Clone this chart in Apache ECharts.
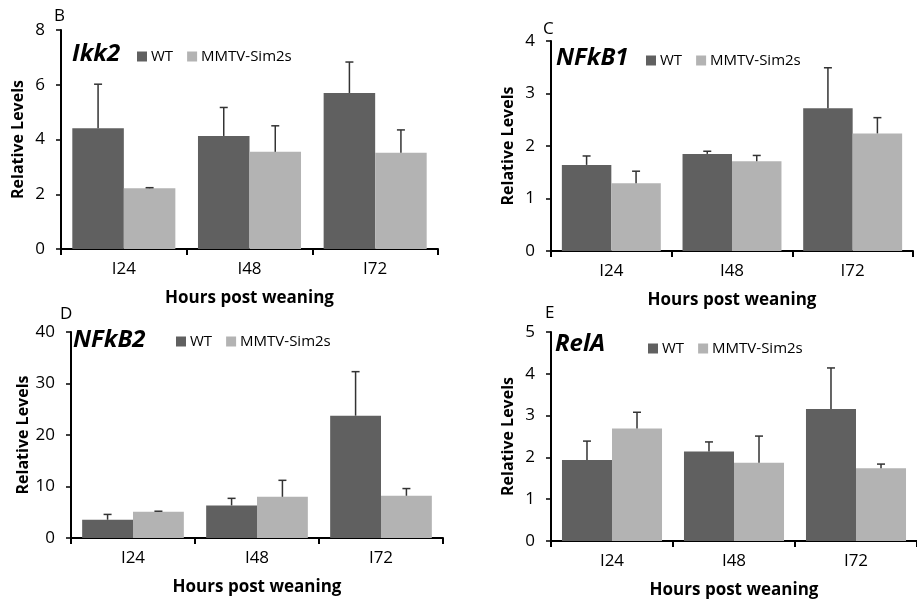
<!DOCTYPE html>
<html>
<head>
<meta charset="utf-8">
<script src="https://cdn.jsdelivr.net/npm/echarts@6/dist/echarts.min.js"></script>
<style>
  html, body { margin: 0; padding: 0; background: #fff; }
  #chart { width: 917px; height: 603px; }
</style>
</head>
<body>
<div id="chart"></div>
<script>
const categories = ["I24", "I48", "I72"];
const seriesNames = ["WT", "MMTV-Sim2s"];

// Ikk2
const ikk2WT = [4.41, 4.13, 5.7];
const ikk2WTErr = [1.61, 1.04, 1.13];
const ikk2Sim = [2.22, 3.55, 3.52];
const ikk2SimErr = [0.02, 0.95, 0.83];

// NFkB1
const nfkb1WT = [1.64, 1.85, 2.72];
const nfkb1WTErr = [0.17, 0.05, 0.77];
const nfkb1Sim = [1.29, 1.71, 2.24];
const nfkb1SimErr = [0.23, 0.11, 0.3];

// NFkB2
const nfkb2WT = [3.55, 6.33, 23.75];
const nfkb2WTErr = [1.03, 1.37, 8.55];
const nfkb2Sim = [5.1, 8.0, 8.2];
const nfkb2SimErr = [0.1, 3.2, 1.4];

// RelA
const relaWT = [1.94, 2.14, 3.16];
const relaWTErr = [0.45, 0.23, 0.98];
const relaSim = [2.69, 1.87, 1.74];
const relaSimErr = [0.39, 0.64, 0.1];

const FONT = "Open Sans";
const WT_COLOR = "#606060";
const SIM_COLOR = "#b3b3b3";
const GAP = 0.18;

const panels = [
  { letter: "B", gene: "Ikk2", max: 8, interval: 2,
    grid: { left: 61, top: 30, right: 479, bottom: 354 },
    wt: ikk2WT, wtErr: ikk2WTErr, sim: ikk2Sim, simErr: ikk2SimErr,
    letterPos: [54, 8], genePos: [72, 42], legendPos: [137, 49] },
  { letter: "C", gene: "NFkB1", max: 4, interval: 1,
    grid: { left: 551, top: 41, right: 4, bottom: 352 },
    wt: nfkb1WT, wtErr: nfkb1WTErr, sim: nfkb1Sim, simErr: nfkb1SimErr,
    letterPos: [543, 21], genePos: [556, 46], legendPos: [646, 53] },
  { letter: "D", gene: "NFkB2", max: 40, interval: 10,
    grid: { left: 71, top: 332, right: 474, bottom: 65 },
    wt: nfkb2WT, wtErr: nfkb2WTErr, sim: nfkb2Sim, simErr: nfkb2SimErr,
    letterPos: [60, 306], genePos: [73, 328], legendPos: [176, 334] },
  { letter: "E", gene: "RelA", max: 5, interval: 1,
    grid: { left: 551, top: 332, right: -9, bottom: 62 },
    wt: relaWT, wtErr: relaWTErr, sim: relaSim, simErr: relaSimErr,
    letterPos: [545, 305], genePos: [555, 332], legendPos: [648, 341] }
];

const chart = echarts.init(document.getElementById("chart"));

function errorItems(values, errs, sign) {
  return values.map((v, i) => [i, v, errs[i], sign]);
}

function renderError(params, api) {
  const idx = api.value(0);
  const v = api.value(1);
  const e = api.value(2);
  const sign = api.value(3);
  const base = api.coord([idx, v]);
  const top = api.coord([idx, v + e]);
  const band = api.size([1, 0])[0];
  const barW = band * (1 - GAP) / 2;
  const x = base[0] + sign * barW / 2;
  const style = { stroke: "#333", lineWidth: 1.5 };
  return {
    type: "group",
    children: [
      { type: "line", shape: { x1: x, y1: base[1], x2: x, y2: top[1] }, style: style },
      { type: "line", shape: { x1: x - 4, y1: top[1], x2: x + 4, y2: top[1] }, style: style }
    ]
  };
}

const option = {
  animation: false,
  backgroundColor: "#fff",
  textStyle: { fontFamily: FONT },
  title: [],
  legend: [],
  grid: [],
  xAxis: [],
  yAxis: [],
  series: []
};

panels.forEach((p, k) => {
  option.grid.push(Object.assign({ containLabel: false }, p.grid));
  option.title.push({
    text: p.letter, left: p.letterPos[0], top: p.letterPos[1], padding: 0,
    textStyle: { fontFamily: FONT, fontSize: 17, fontWeight: "normal", color: "#000" }
  });
  option.title.push({
    text: p.gene, left: p.genePos[0], top: p.genePos[1], padding: 0,
    textStyle: { fontFamily: FONT, fontSize: 24, fontWeight: "bold", fontStyle: "italic", color: "#000" }
  });
  option.legend.push({
    data: seriesNames, left: p.legendPos[0], top: p.legendPos[1], padding: 0,
    icon: "rect", itemWidth: 10, itemHeight: 10, itemGap: 14,
    selectedMode: false,
    textStyle: { fontFamily: FONT, fontSize: 15, color: "#000", padding: [0, 0, 0, -1] }
  });
  option.xAxis.push({
    type: "category", gridIndex: k, data: categories,
    name: "Hours post weaning", nameLocation: "middle", nameGap: 41,
    nameTextStyle: { fontFamily: FONT, fontSize: 17, fontWeight: "bold", color: "#000" },
    axisLine: { lineStyle: { color: "#000", width: 2 } },
    axisTick: { show: true, length: 6, lineStyle: { color: "#000", width: 2 } },
    axisLabel: { fontFamily: FONT, fontSize: 17, color: "#000", margin: 12 },
    splitLine: { show: false }
  });
  option.yAxis.push({
    type: "value", gridIndex: k, min: 0, max: p.max, interval: p.interval,
    name: "Relative Levels", nameLocation: "middle", nameGap: 35,
    nameTextStyle: { fontFamily: FONT, fontSize: 16, fontWeight: "bold", color: "#000" },
    axisLine: { show: true, lineStyle: { color: "#000", width: 2 } },
    axisTick: { show: true, length: 5, lineStyle: { color: "#000", width: 1.5 } },
    axisLabel: { fontFamily: FONT, fontSize: 17, color: "#000", margin: 16 },
    splitLine: { show: false }
  });
  option.series.push({
    name: seriesNames[0], type: "bar", xAxisIndex: k, yAxisIndex: k,
    data: p.wt, barGap: 0, barCategoryGap: (GAP * 100) + "%",
    itemStyle: { color: WT_COLOR }
  });
  option.series.push({
    name: seriesNames[1], type: "bar", xAxisIndex: k, yAxisIndex: k,
    data: p.sim, barGap: 0, barCategoryGap: (GAP * 100) + "%",
    itemStyle: { color: SIM_COLOR }
  });
  option.series.push({
    type: "custom", xAxisIndex: k, yAxisIndex: k, z: 5,
    data: errorItems(p.wt, p.wtErr, -1).concat(errorItems(p.sim, p.simErr, 1)),
    renderItem: renderError,
    encode: { x: 0, y: 1 },
    silent: true
  });
});

chart.setOption(option);
</script>
</body>
</html>
